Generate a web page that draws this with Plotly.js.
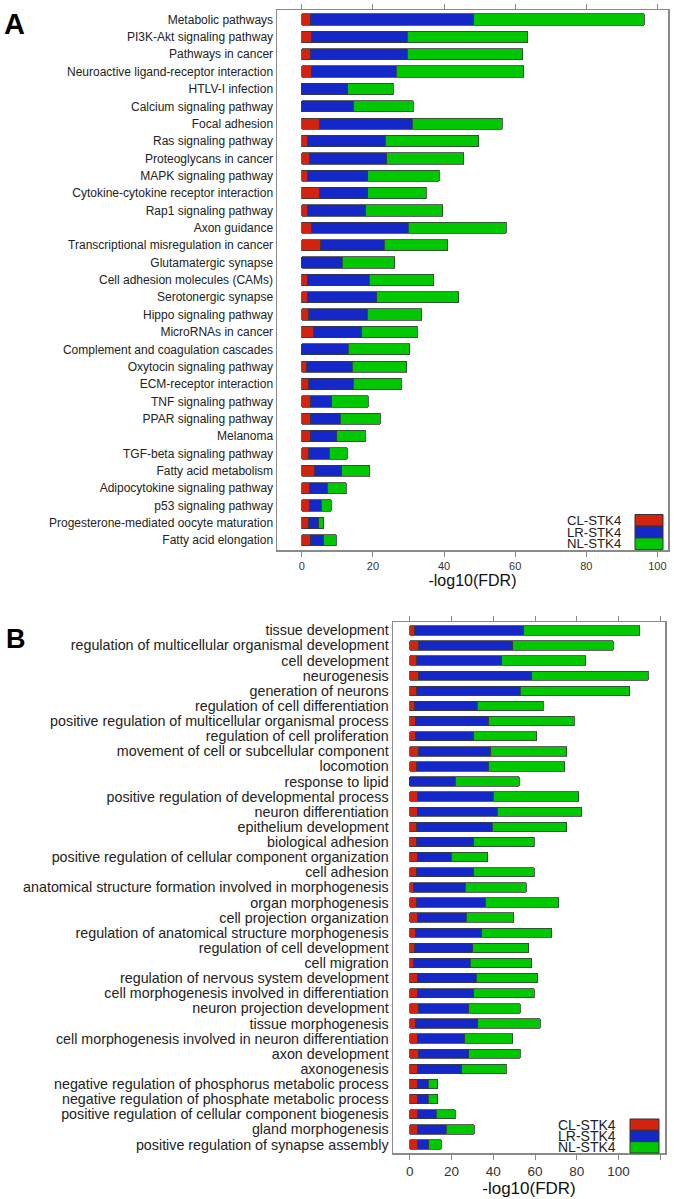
<!DOCTYPE html>
<html>
<head>
<meta charset="utf-8">
<script src="https://cdn.plot.ly/plotly-3.0.1.min.js"></script>
<style>html,body{margin:0;padding:0;background:#fff;}#chart{width:674px;height:1199px;}</style>
</head>
<body>
<div id="chart"></div>
<script>
// ---------- Panel A : KEGG pathways ----------
const pathwaysA = [
  "Metabolic pathways","PI3K-Akt signaling pathway","Pathways in cancer",
  "Neuroactive ligand-receptor interaction","HTLV-I infection","Calcium signaling pathway",
  "Focal adhesion","Ras signaling pathway","Proteoglycans in cancer","MAPK signaling pathway",
  "Cytokine-cytokine receptor interaction","Rap1 signaling pathway","Axon guidance",
  "Transcriptional misregulation in cancer","Glutamatergic synapse","Cell adhesion molecules (CAMs)",
  "Serotonergic synapse","Hippo signaling pathway","MicroRNAs in cancer",
  "Complement and coagulation cascades","Oxytocin signaling pathway","ECM-receptor interaction",
  "TNF signaling pathway","PPAR signaling pathway","Melanoma","TGF-beta signaling pathway",
  "Fatty acid metabolism","Adipocytokine signaling pathway","p53 signaling pathway",
  "Progesterone-mediated oocyte maturation","Fatty acid elongation"
];
const clA = [2.3,2.6,2.3,2.6,0,0,4.9,1.5,2.1,1.6,4.9,1.5,2.6,5.3,0,1.5,1.7,2.0,3.3,0,1.3,2.0,2.3,2.3,2.3,2.0,3.6,2.2,2.2,2.0,2.3];
const lrA = [46.0,27.1,27.4,24.0,12.9,14.4,26.2,22.0,21.8,16.9,13.6,16.4,27.3,17.9,11.4,17.5,19.4,16.4,13.6,13.0,12.8,12.4,6.1,8.5,7.5,5.7,7.6,5.0,3.2,2.7,3.8];
const nlA = [48.0,33.9,32.4,35.8,12.8,17.0,25.3,26.3,21.7,20.1,16.5,21.7,27.6,17.9,14.7,18.1,23.0,15.3,15.5,17.3,15.4,13.5,10.3,11.3,8.0,5.1,7.9,5.3,2.9,1.4,3.6];

// ---------- Panel B : GO terms ----------
const termsB = [
  "tissue development","regulation of multicellular organismal development","cell development",
  "neurogenesis","generation of neurons","regulation of cell differentiation",
  "positive regulation of multicellular organismal process","regulation of cell proliferation",
  "movement of cell or subcellular component","locomotion","response to lipid",
  "positive regulation of developmental process","neuron differentiation","epithelium development",
  "biological adhesion","positive regulation of cellular component organization","cell adhesion",
  "anatomical structure formation involved in morphogenesis","organ morphogenesis",
  "cell projection organization","regulation of anatomical structure morphogenesis",
  "regulation of cell development","cell migration","regulation of nervous system development",
  "cell morphogenesis involved in differentiation","neuron projection development",
  "tissue morphogenesis","cell morphogenesis involved in neuron differentiation","axon development",
  "axonogenesis","negative regulation of phosphorus metabolic process",
  "negative regulation of phosphate metabolic process",
  "positive regulation of cellular component biogenesis","gland morphogenesis",
  "positive regulation of synapse assembly"
];
const clB = [2.4,4.3,3.4,4.3,3.4,2.1,2.7,2.7,4.0,3.4,0,3.8,3.5,3.4,3.2,3.7,3.2,1.9,3.2,3.8,2.9,2.4,1.9,3.8,3.5,4.0,2.7,3.7,4.2,3.7,3.7,3.7,3.7,3.5,3.5];
const lrB = [52.2,44.9,40.7,54.2,49.5,30.2,35.2,28.0,34.7,34.5,21.7,36.1,38.4,36.1,27.5,16.1,27.5,24.8,32.9,23.2,31.6,27.8,27.0,28.1,27.2,24.3,29.9,22.7,24.1,21.1,5.2,5.2,9.1,14.1,5.6];
const nlB = [55.6,48.2,40.1,55.7,52.5,31.6,40.9,30.0,36.4,36.4,30.7,41.1,40.5,35.6,29.0,17.6,29.0,29.2,35.3,22.8,33.6,26.8,29.6,29.4,28.9,24.6,30.0,22.8,24.6,21.5,4.4,4.4,9.1,13.4,6.1];

const seriesNames = ["CL-STK4","LR-STK4","NL-STK4"];
const tickValsA = [0,20,40,60,80,100];
const tickValsB = [0,20,40,60,80,100,120];
const tickTextB = ["0","20","40","60","80","100",""];

// ---------- styling ----------
const W = 674, H = 1199;
const colors = ["#d2230e","#1428c8","#00c800"];
const FONT = "Liberation Sans, Arial, Helvetica, sans-serif";
const TXT = "#222";
const FRAME = "#8a8a8a";
const px = x => x / W;
const py = y => 1 - y / H;

function bars(cats, vals, i, xa, ya, bw) {
  return {
    type: "bar", orientation: "h", y: cats, x: vals, name: seriesNames[i],
    xaxis: xa, yaxis: ya, width: bw, showlegend: false,
    marker: {color: colors[i], line: {color: "#3a3a3a", width: 0.8}},
    hoverinfo: "x+y+name"
  };
}

const data = [
  bars(pathwaysA, clA, 0, "x", "y", 0.65),
  bars(pathwaysA, lrA, 1, "x", "y", 0.65),
  bars(pathwaysA, nlA, 2, "x", "y", 0.65),
  bars(termsB, clB, 0, "x2", "y2", 0.62),
  bars(termsB, lrB, 1, "x2", "y2", 0.62),
  bars(termsB, nlB, 2, "x2", "y2", 0.62)
];

// Panel geometry (pixels)
const A = {l: 277, r: 668, t: 10, b: 550};
const B = {l: 393, r: 665, t: 622, b: 1153};

function xaxis(p, range, tv, tt, tickSize, titleSize, standoff) {
  return {
    domain: [px(p.l), px(p.r)], range: range, showgrid: false, zeroline: false,
    showline: true, linecolor: FRAME, linewidth: 1.5, mirror: "ticks",
    ticks: "outside", ticklen: 5, tickcolor: FRAME, tickwidth: 1,
    tickmode: "array", tickvals: tv, ticktext: tt,
    tickfont: {family: FONT, size: tickSize, color: "#333"},
    title: {text: "-log10(FDR)", font: {family: FONT, size: titleSize, color: "#111"}, standoff: standoff},
    fixedrange: true
  };
}
function yaxis(p, cats, fsize, anchor) {
  const n = cats.length;
  return {
    domain: [py(p.b), py(p.t)], type: "category", categoryorder: "array", categoryarray: cats,
    range: [n - 1 + 0.56, -0.55], showgrid: false, zeroline: false,
    showline: true, linecolor: FRAME, linewidth: 1.5, mirror: true, ticks: "",
    tickmode: "array", tickvals: cats, ticktext: cats,
    tickfont: {family: FONT, size: fsize, color: TXT}, anchor: anchor, fixedrange: true
  };
}

// legend built from the series names / colours
const shapes = [], annotations = [];
function legend(xBoxL, xBoxR, yTop, boxH, xText, fsize) {
  seriesNames.forEach((nm, i) => {
    const y0 = yTop + i * boxH, y1 = y0 + boxH;
    shapes.push({type: "rect", xref: "paper", yref: "paper",
      x0: px(xBoxL), x1: px(xBoxR), y0: py(y1), y1: py(y0),
      fillcolor: colors[i], line: {color: "#333", width: 1}});
    annotations.push({xref: "paper", yref: "paper", x: px(xText), y: py((y0 + y1) / 2),
      xanchor: "right", yanchor: "middle", showarrow: false, text: nm,
      font: {family: FONT, size: fsize, color: TXT}});
  });
}
legend(635, 663, 514.5, 11.7, 623, 13.2);
legend(630, 659, 1119, 11.33, 618, 14);

annotations.push({xref: "paper", yref: "paper", x: px(2), y: py(6), xanchor: "left", yanchor: "top",
  showarrow: false, text: "<b>A</b>", font: {family: FONT, size: 29, color: "#000"}});
annotations.push({xref: "paper", yref: "paper", x: px(4), y: py(622), xanchor: "left", yanchor: "top",
  showarrow: false, text: "<b>B</b>", font: {family: FONT, size: 27, color: "#000"}});

const layout = {
  width: W, height: H, margin: {l: 0, r: 0, t: 0, b: 0},
  paper_bgcolor: "#fff", plot_bgcolor: "#fff", barmode: "stack", bargap: 0.35,
  showlegend: false,
  xaxis: xaxis(A, [-7, 103], tickValsA, tickValsA.map(String), 11, 16, 4),
  yaxis: yaxis(A, pathwaysA, 12, "x"),
  xaxis2: Object.assign(xaxis(B, [-8, 122.2], tickValsB, tickTextB, 13.5, 17, 3), {anchor: "y2"}),
  yaxis2: yaxis(B, termsB, 14.3, "x2"),
  shapes: shapes, annotations: annotations,
  font: {family: FONT}
};
layout.xaxis.anchor = "y";

Plotly.newPlot("chart", data, layout, {displayModeBar: false, staticPlot: true});
</script>
</body>
</html>
